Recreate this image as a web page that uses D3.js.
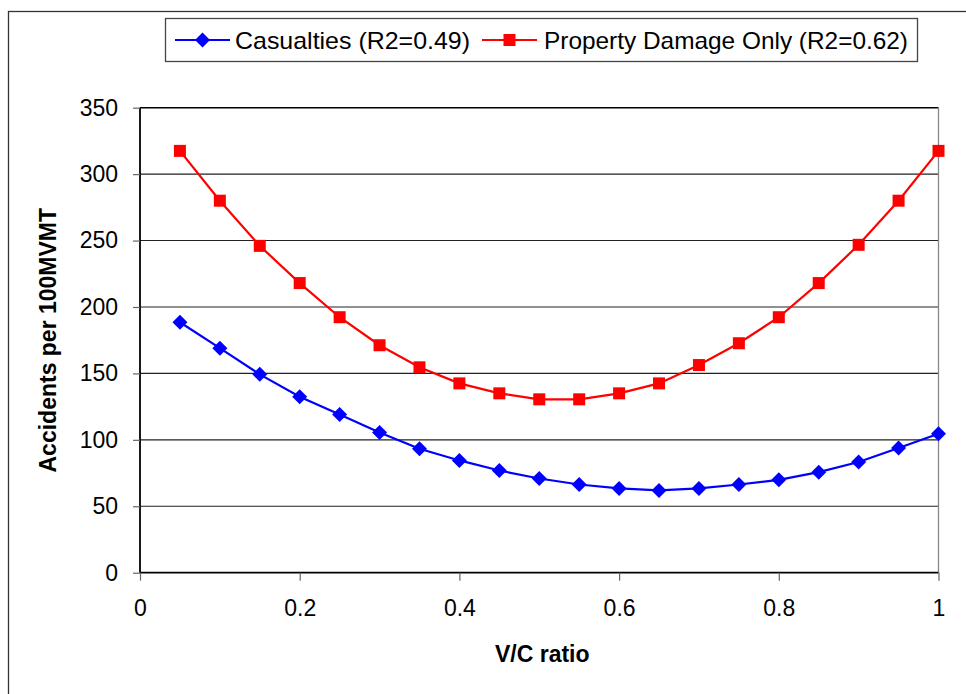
<!DOCTYPE html>
<html>
<head>
<meta charset="utf-8">
<script src="https://cdn.jsdelivr.net/npm/d3@7"></script>
<style>
  body { margin: 0; background: #fff; }
  svg { display: block; font-family: Arial, "Liberation Sans", sans-serif; }
</style>
</head>
<body>
<div id="chart"></div>
<script>
// v/c ratio points and the two fitted series
var vcRatio = [0.05, 0.10, 0.15, 0.20, 0.25, 0.30, 0.35, 0.40, 0.45, 0.50,
               0.55, 0.60, 0.65, 0.70, 0.75, 0.80, 0.85, 0.90, 0.95, 1.00];
var casualties = [188.5, 169, 149.3, 132.4, 119.1, 105.6, 93.3, 84.5, 76.9, 70.9,
                  66.4, 63.4, 61.9, 63.4, 66.4, 69.9, 75.7, 83.3, 93.8, 104.6];
var propertyDamage = [317.5, 280, 246, 218, 192.3, 171.2, 154.6, 142.5, 135, 130.5,
                      130.5, 135, 142.5, 156.3, 172.7, 192.3, 218, 246.8, 280, 317.5];
var xTicks = [0, 0.2, 0.4, 0.6, 0.8, 1];
var yTicks = [0, 50, 100, 150, 200, 250, 300, 350];
var seriesNames = ["Casualties (R2=0.49)", "Property Damage Only (R2=0.62)"];

var width = 966, height = 694;
var plot = { left: 140, right: 938.5, top: 107.7, bottom: 572.7 };

var svg = d3.select("#chart").append("svg")
    .attr("width", width)
    .attr("height", height);

// outer chart frame (runs off right and bottom)
svg.append("rect")
    .attr("x", 8.5).attr("y", 11.5)
    .attr("width", 980).attr("height", 720)
    .attr("fill", "none")
    .attr("stroke", "#333")
    .attr("stroke-width", 1.3);

var x = d3.scaleLinear().domain([0, 1]).range([plot.left, plot.right]);
var y = d3.scaleLinear().domain([0, 350]).range([plot.bottom, plot.top]);

// grid lines
svg.append("g")
    .selectAll("line")
    .data(yTicks.filter(function (d) { return d > 0 && d < 350; }))
    .enter().append("line")
    .attr("x1", plot.left).attr("x2", plot.right)
    .attr("y1", function (d) { return y(d); })
    .attr("y2", function (d) { return y(d); })
    .attr("stroke", "#222")
    .attr("stroke-width", 1.1);

// plot border: top black, right grey
svg.append("line")
    .attr("x1", plot.left).attr("x2", plot.right)
    .attr("y1", y(350)).attr("y2", y(350))
    .attr("stroke", "#000").attr("stroke-width", 1.6);
svg.append("line")
    .attr("x1", plot.right).attr("x2", plot.right)
    .attr("y1", plot.top).attr("y2", plot.bottom)
    .attr("stroke", "#888").attr("stroke-width", 1.3);

// axes
var yAxis = svg.append("g")
    .attr("transform", "translate(" + plot.left + ",0)")
    .call(d3.axisLeft(y).tickValues(yTicks).tickSize(7).tickPadding(15));
var xAxis = svg.append("g")
    .attr("transform", "translate(0," + plot.bottom + ")")
    .call(d3.axisBottom(x).tickValues(xTicks).tickSize(8).tickPadding(19)
        .tickFormat(function (d) { return d === 0 || d === 1 ? d : d3.format(".1f")(d); }));

[yAxis, xAxis].forEach(function (ax) {
    ax.select(".domain").attr("stroke", "#000").attr("stroke-width", 1.8);
    ax.selectAll(".tick line").attr("stroke", "#666").attr("stroke-width", 1.2);
    ax.selectAll(".tick text")
        .attr("fill", "#000")
        .style("font-size", "23px")
        .style("font-family", "Arial, 'Liberation Sans', sans-serif");
});
xAxis.select(".domain").attr("d", "M" + plot.left + ",0H" + plot.right);
yAxis.select(".domain").attr("d", "M0," + plot.bottom + "V" + plot.top);

// axis titles
svg.append("text")
    .attr("x", (plot.left + plot.right) / 2 + 3)
    .attr("y", 662)
    .attr("text-anchor", "middle")
    .style("font-size", "23px")
    .style("font-weight", "bold")
    .text("V/C ratio");

svg.append("text")
    .attr("transform", "translate(56," + ((plot.top + plot.bottom) / 2) + ") rotate(-90)")
    .attr("text-anchor", "middle")
    .style("font-size", "23px")
    .style("font-weight", "bold")
    .text("Accidents per 100MVMT");

// series
var series = [
    { name: seriesNames[0], values: casualties, color: "#0000ff", shape: "diamond" },
    { name: seriesNames[1], values: propertyDamage, color: "#ff0000", shape: "square" }
];

var line = d3.line()
    .x(function (d) { return x(d[0]); })
    .y(function (d) { return y(d[1]); });

function drawMarker(g, s, cx, cy) {
    if (s.shape === "diamond") {
        g.append("path")
            .attr("d", "M" + cx + "," + (cy - 7.5) + "L" + (cx + 7.5) + "," + cy +
                "L" + cx + "," + (cy + 7.5) + "L" + (cx - 7.5) + "," + cy + "Z")
            .attr("fill", s.color);
    } else {
        g.append("rect")
            .attr("x", cx - 6).attr("y", cy - 6)
            .attr("width", 12).attr("height", 12)
            .attr("fill", s.color);
    }
}

series.forEach(function (s) {
    var pts = vcRatio.map(function (v, i) { return [v, s.values[i]]; });
    var g = svg.append("g");
    g.append("path")
        .datum(pts)
        .attr("d", line)
        .attr("fill", "none")
        .attr("stroke", s.color)
        .attr("stroke-width", 2.2);
    pts.forEach(function (p) { drawMarker(g, s, x(p[0]), y(p[1])); });
});

// legend
var legend = svg.append("g");
legend.append("rect")
    .attr("x", 165.5).attr("y", 18.5)
    .attr("width", 752).attr("height", 43)
    .attr("fill", "#fff")
    .attr("stroke", "#444")
    .attr("stroke-width", 1.3);

var legendItems = [
    { s: series[0], lx: 175, tx: 235, tw: 235 },
    { s: series[1], lx: 482, tx: 544, tw: 364 }
];
legendItems.forEach(function (it) {
    legend.append("line")
        .attr("x1", it.lx).attr("x2", it.lx + 55)
        .attr("y1", 40).attr("y2", 40)
        .attr("stroke", it.s.color).attr("stroke-width", 2.2);
    drawMarker(legend, it.s, it.lx + 27.5, 40);
    legend.append("text")
        .attr("x", it.tx).attr("y", 48.5)
        .attr("textLength", it.tw)
        .attr("lengthAdjust", "spacingAndGlyphs")
        .style("font-size", "24px")
        .text(it.s.name);
});
</script>
</body>
</html>
